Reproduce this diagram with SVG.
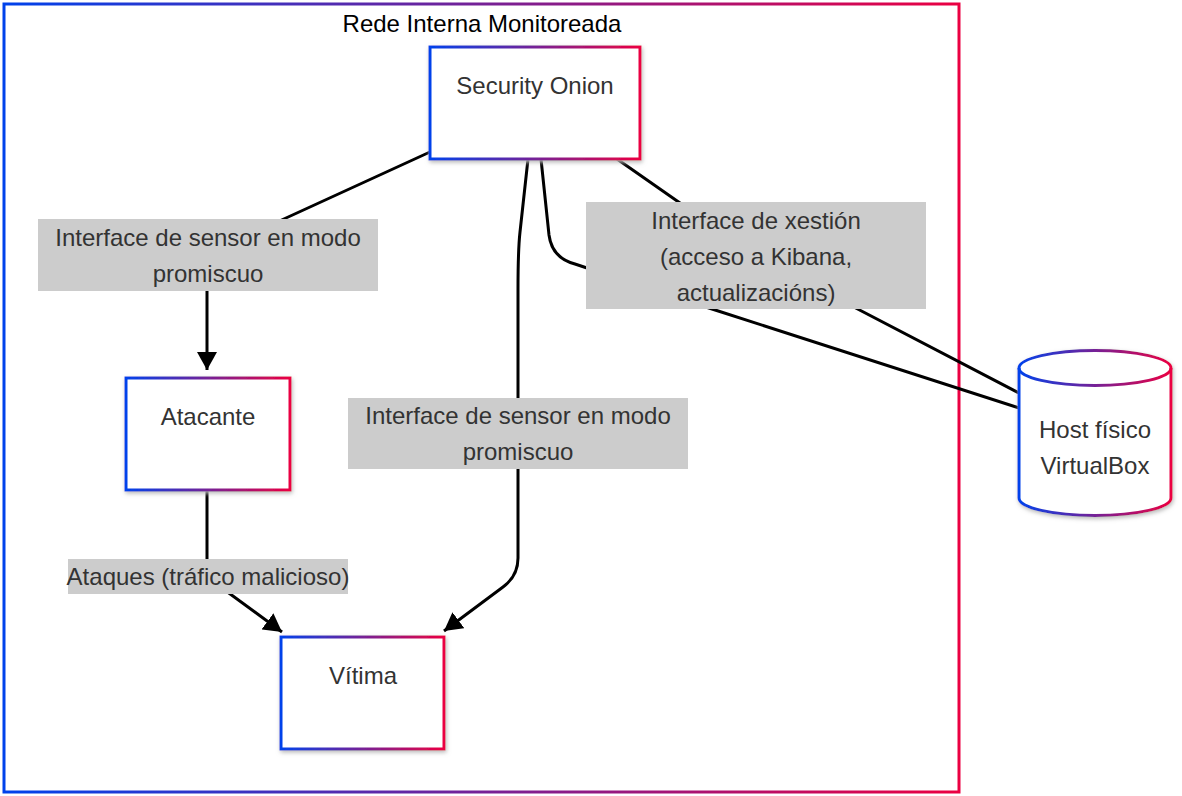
<svg xmlns="http://www.w3.org/2000/svg" width="1182" height="796" viewBox="0 0 1182 796">
<defs>
<linearGradient id="g" x1="0" y1="0" x2="1" y2="0"><stop offset="0" stop-color="#0042eb"/><stop offset="1" stop-color="#eb0042"/></linearGradient>
<filter id="sh" x="-10%" y="-10%" width="130%" height="130%"><feDropShadow dx="1" dy="2" stdDeviation="2" flood-color="#b9b9b9"/></filter>
<marker id="ah" viewBox="0 0 20 20" refX="18" refY="10" markerWidth="20" markerHeight="20" markerUnits="userSpaceOnUse" orient="auto"><path d="M0,0 L18,10 L0,20 z" fill="#000"/></marker>
<style>
.node{fill:#fff;stroke:url(#g);stroke-width:3;filter:url(#sh)}
.t{font-family:"Liberation Sans",Arial,sans-serif;font-size:24px;fill:#333;text-anchor:middle}
.e{fill:none;stroke:#000;stroke-width:3}
.lb{fill:#cccccc}
</style>
</defs>
<g id="cluster">
<rect x="4" y="4" width="955" height="788" fill="#fff" stroke="url(#g)" stroke-width="3"/>
<text x="482" y="32" class="t" style="fill:#000">Rede Interna Monitoreada</text>
</g>
<g id="connectors">
<path class="e" d="M430,152 L262,229 Q207,254 207,285 L207,370" marker-end="url(#ah)"/>
<path class="e" d="M528,159 L520,232 Q518,250 518,290 L518,558 Q518,576 503,587 L444,631" marker-end="url(#ah)"/>
<path class="e" d="M617,159 L690,210 L850,305 L1019,393"/>
<path class="e" d="M541,159 L549,235 Q552,258 575,264 L590,269 L712,309 L1019,408"/>
<path class="e" d="M207,490 L207,560 Q207,578 222,588 L282,632" marker-end="url(#ah)"/>
</g>
<g id="labels">
<rect class="lb" x="38" y="219" width="340" height="72"/>
<text class="t" x="208" y="246">Interface de sensor en modo</text>
<text class="t" x="208" y="282">promiscuo</text>
<rect class="lb" x="586" y="202" width="340" height="107"/>
<text class="t" x="756" y="229">Interface de xestión</text>
<text class="t" x="756" y="265">(acceso a Kibana,</text>
<text class="t" x="756" y="301">actualizacións)</text>
<rect class="lb" x="348" y="398" width="340" height="71"/>
<text class="t" x="518" y="424">Interface de sensor en modo</text>
<text class="t" x="518" y="460">promiscuo</text>
<rect class="lb" x="68" y="559" width="280" height="35"/>
<text class="t" x="208" y="585">Ataques (tráfico malicioso)</text>
</g>
<g id="security-onion">
<rect class="node" x="430" y="47" width="210" height="112"/>
<text class="t" x="535" y="94">Security Onion</text>
</g>
<g id="atacante">
<rect class="node" x="126" y="378" width="164" height="112"/>
<text class="t" x="208" y="425">Atacante</text>
</g>
<g id="vitima">
<rect class="node" x="281" y="637" width="163" height="112"/>
<text class="t" x="363" y="684">Vítima</text>
</g>
<g id="host">
<path class="node" d="M1019,368 A76,17.5 0 0 1 1171,368 L1171,498 A76,17.5 0 0 1 1019,498 Z"/>
<path d="M1019,368 A76,17.5 0 0 0 1171,368" fill="none" stroke="url(#g)" stroke-width="3"/>
<text class="t" x="1095" y="438">Host físico</text>
<text class="t" x="1095" y="474">VirtualBox</text>
</g>
</svg>
